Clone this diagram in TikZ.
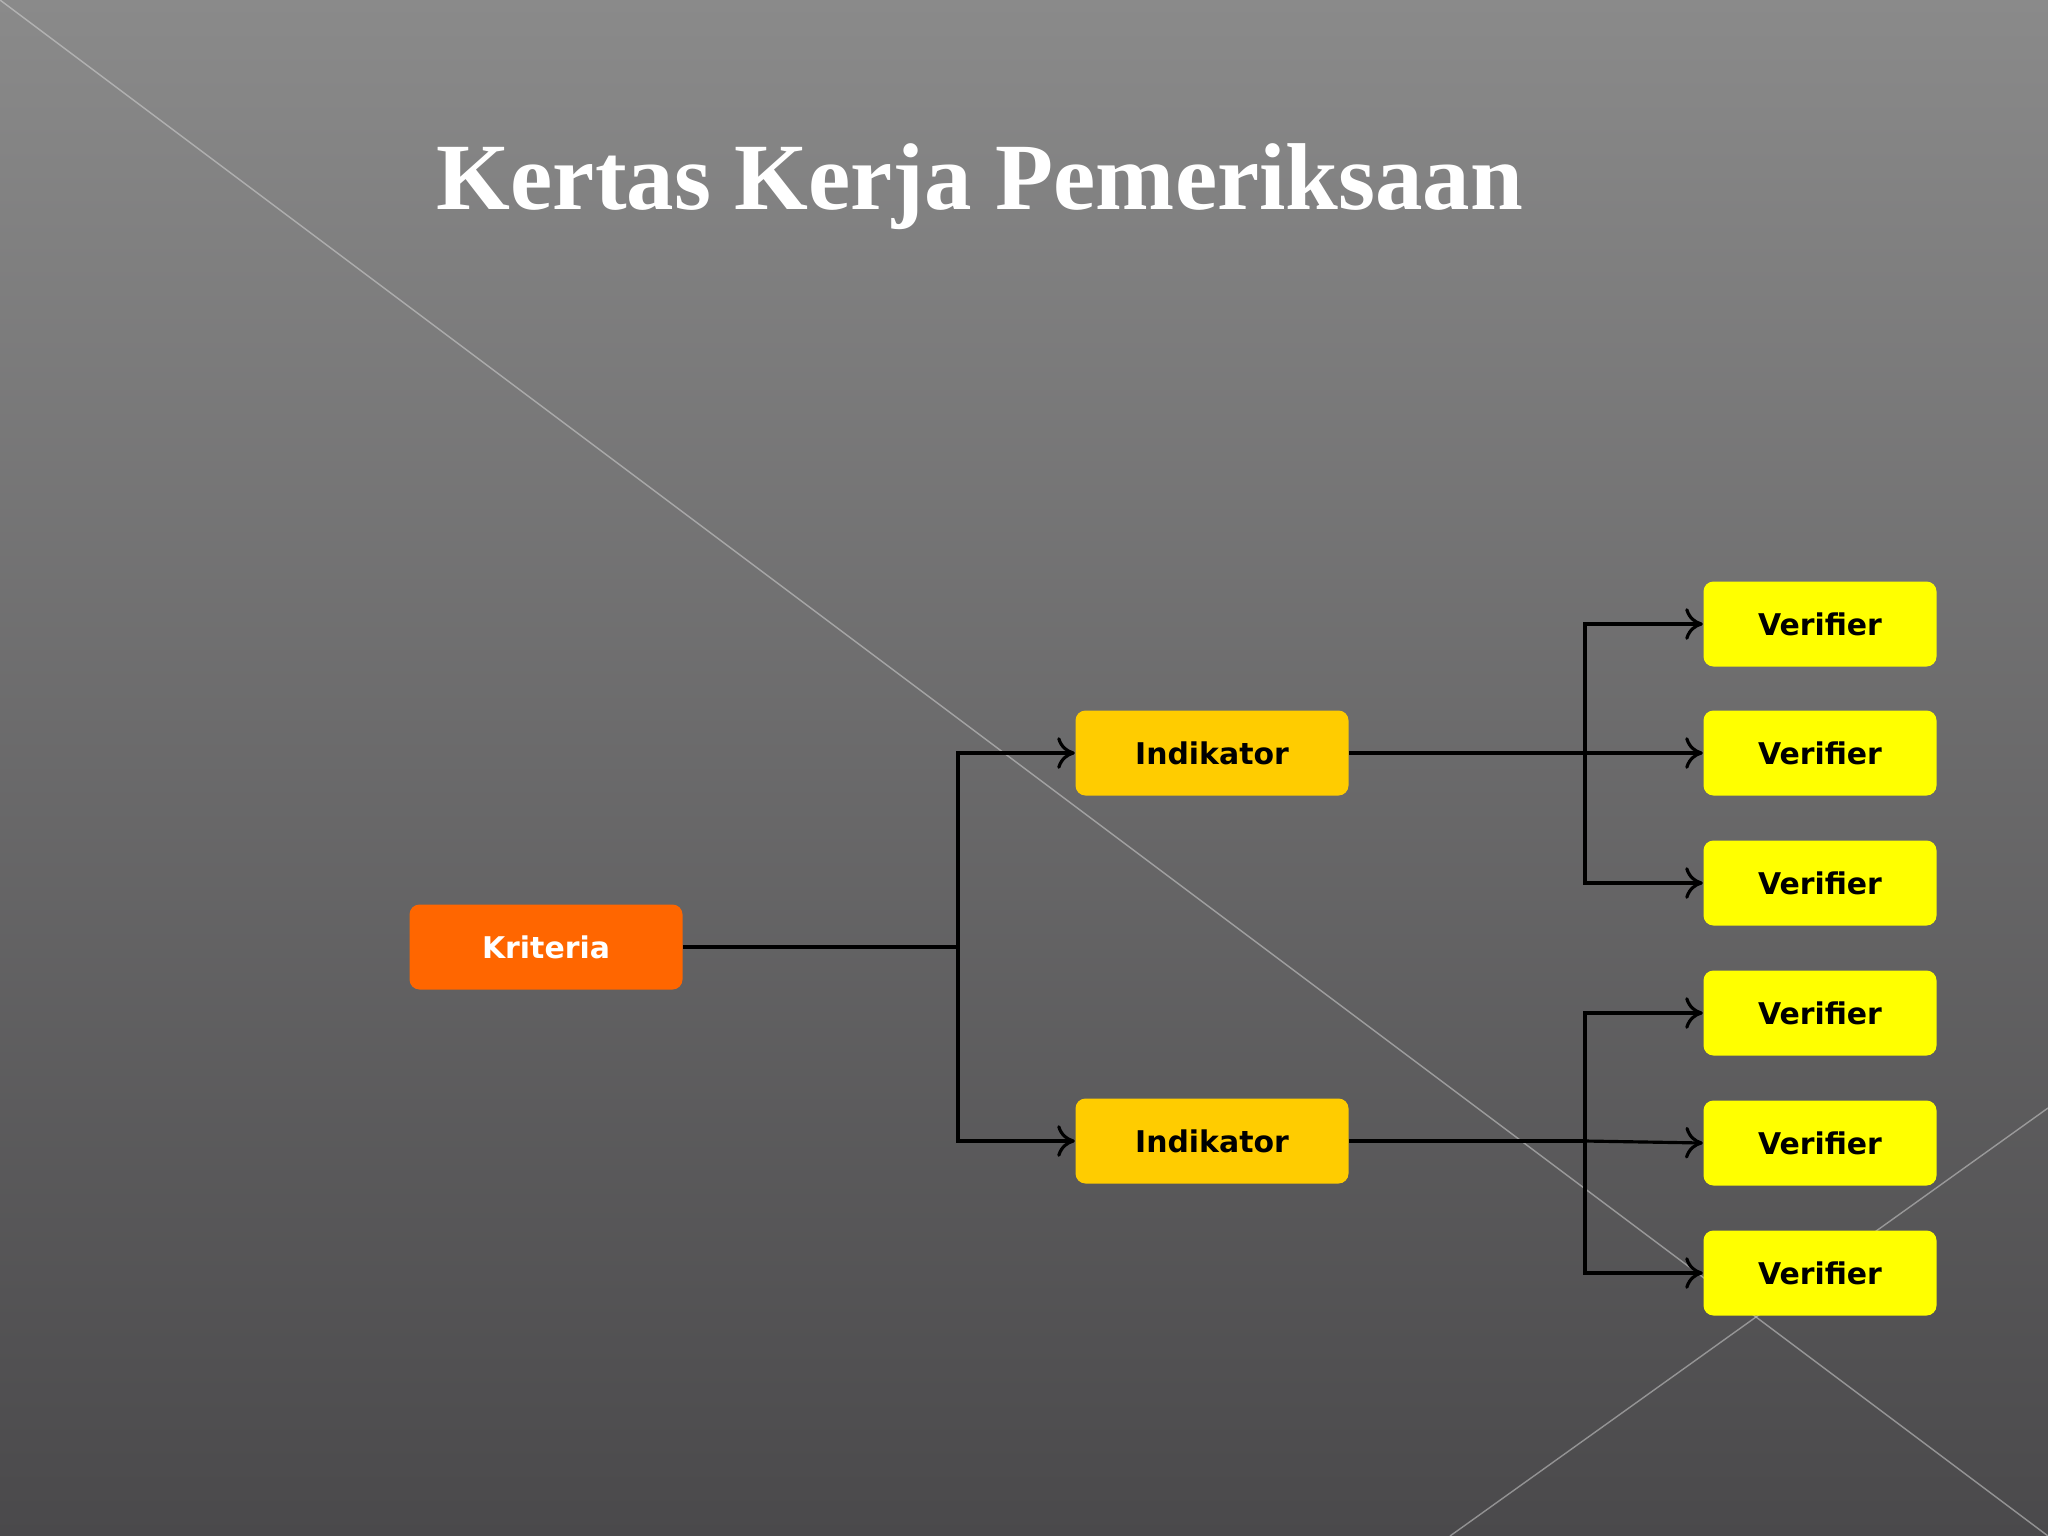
\documentclass[tikz,border=0pt]{standalone}
\usepackage{fontspec}
\setmainfont{Liberation Serif}
\newfontfamily\boxfont{DejaVu Sans}
\usetikzlibrary{arrows.meta}
\definecolor{bgtop}{HTML}{8A8A8A}
\definecolor{bgbot}{HTML}{4A494B}
\definecolor{krit}{HTML}{FF6600}
\definecolor{indi}{HTML}{FFCC00}
\definecolor{veri}{HTML}{FFFF00}
\tikzset{
 boxbase/.style={rounded corners=10*0.01cm, minimum height=85*0.01cm, inner sep=0pt, font=\boxfont\bfseries\fontsize{8.5}{10}\selectfont},
 kbox/.style={boxbase, fill=krit, text=white, minimum width=273*0.01cm},
 ibox/.style={boxbase, fill=indi, text=black, minimum width=273*0.01cm},
 vbox/.style={boxbase, fill=veri, text=black, minimum width=233*0.01cm},
 conn/.style={draw=black, line width=0.9pt},
 arr/.style={conn, -{To[length=5pt,width=9pt,line width=0.9pt]}},
 deco/.style={draw=white!70!gray, line width=0.4pt, opacity=0.5}
}
\begin{document}
\begin{tikzpicture}[x=0.01cm,y=-0.01cm]
\useasboundingbox (0,0) rectangle (2048,1536);
\shade[top color=bgtop, bottom color=bgbot] (0,0) rectangle (2048,1536);
\draw[deco] (0,0) -- (2048,1536);
\draw[deco] (1450,1536) -- (2048,1108);
\node[text=white, font=\bfseries\fontsize{27}{32}\selectfont] (title) at (980,187) {Kertas Kerja Pemeriksaan};
\node[kbox] (k) at (546,947) {Kriteria};
\node[ibox] (i1) at (1212,753) {Indikator};
\node[ibox] (i2) at (1212,1141) {Indikator};
\foreach \n/\y in {1/624,2/753,3/883,4/1013,5/1143,6/1273}
  \node[vbox] (v\n) at (1820,\y) {Verifier};
\coordinate (b1) at (958,947);
\draw[conn] (k.east) -- (b1);
\draw[arr] (b1) |- (i1.west);
\draw[arr] (b1) |- (i2.west);
\coordinate (b2) at (1585,753);
\coordinate (b3) at (1585,1141);
\draw[conn] (i1.east) -- (b2);
\draw[conn] (i2.east) -- (b3);
\draw[arr] (b2) |- (v1.west);
\draw[arr] (b2) -- (v2.west);
\draw[arr] (b2) |- (v3.west);
\draw[arr] (b3) |- (v4.west);
\draw[arr] (b3) -- (v5.west);
\draw[arr] (b3) |- (v6.west);
\end{tikzpicture}
\end{document}
